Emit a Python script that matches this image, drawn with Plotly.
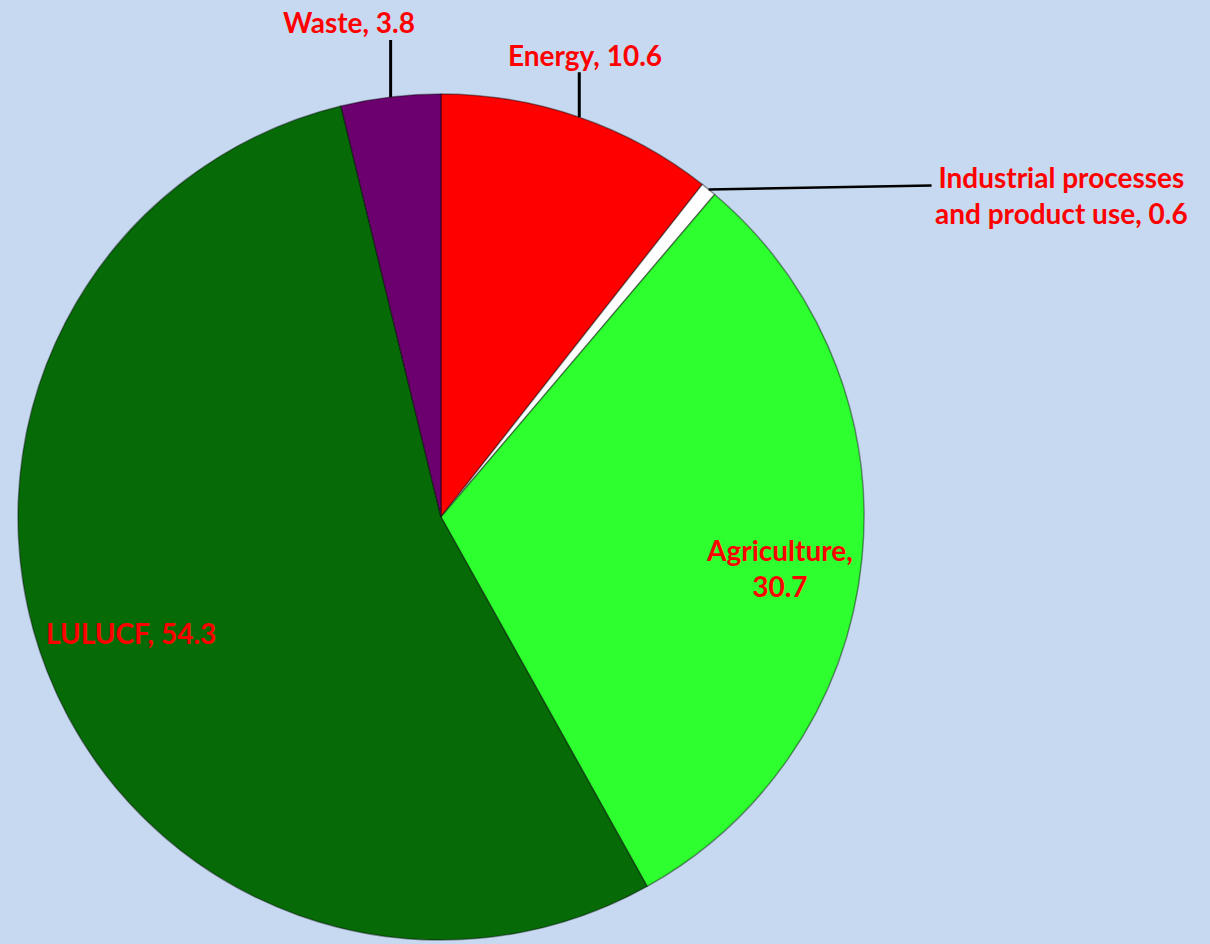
import math
import plotly.graph_objects as go

categories = ["Energy", "Industrial processes and product use", "Agriculture", "LULUCF", "Waste"]
values = [10.6, 0.6, 30.7, 54.3, 3.8]
label_texts = ["Energy, 10.6", "Industrial processes<br>and product use, 0.6",
               "Agriculture,<br>30.7", "LULUCF, 54.3", "Waste, 3.8"]
colors = ["#FF0000", "#FFFFFF", "#2EFF2E", "#066A06", "#6C006E"]

W, H = 1210, 944
CX, CY, R = 441, 517, 423
BG = "#C6D9F0"

fig = go.Figure()
fig.add_trace(go.Pie(
    labels=categories, values=values, sort=False, direction="clockwise",
    rotation=0, textinfo="none", hoverinfo="label+value",
    marker=dict(colors=colors, line=dict(color="rgba(0,0,0,0.4)", width=1.5)),
    domain=dict(x=[(CX - R) / W, (CX + R) / W], y=[(H - CY - R) / H, (H - CY + R) / H]),
    showlegend=False,
))

total = sum(values)

def px2paper(x, y):
    return x / W, 1 - y / H

def point(angle_deg, r):
    a = math.radians(angle_deg)
    return CX + r * math.sin(a), CY - r * math.cos(a)

mids = []
cum = 0
for v in values:
    mids.append((cum + v / 2) / total * 360)
    cum += v

font = dict(family="Lato, 'Open Sans', sans-serif", size=28, color="#FF0000")

shapes = []
annotations = []
style = {
    "Energy": ("vert", 45, 6, -17),
    "Waste": ("vert", 57, -42, -18),
    "Industrial processes and product use": ("horiz", 223, 0, 0),
    "Agriculture": ("inside", 0.80, 2, 18),
    "LULUCF": ("inside", 0.75, -15, 0),
}
for cat, txt, m in zip(categories, label_texts, mids):
    kind, p, dx, dy = style[cat]
    if kind == "vert":
        x0, y0 = point(m, R)
        x1, y1 = x0, y0 - p
        shapes.append(dict(type="line", xref="paper", yref="paper",
                           x0=px2paper(x0, y0)[0], y0=px2paper(x0, y0)[1],
                           x1=px2paper(x1, y1)[0], y1=px2paper(x1, y1)[1],
                           line=dict(color="black", width=3)))
        tx, ty = px2paper(x1 + dx, y1 + dy)
        annotations.append(dict(text="<b>%s</b>" % txt, x=tx, y=ty, xref="paper", yref="paper",
                                showarrow=False, font=font, xanchor="center", yanchor="middle"))
    elif kind == "horiz":
        x0, y0 = point(m, R)
        x1, y1 = x0 + p, y0 - 4
        shapes.append(dict(type="line", xref="paper", yref="paper",
                           x0=px2paper(x0, y0)[0], y0=px2paper(x0, y0)[1],
                           x1=px2paper(x1, y1)[0], y1=px2paper(x1, y1)[1],
                           line=dict(color="black", width=2.5)))
        tx, ty = px2paper(x1 + 1, y1 + 10)
        annotations.append(dict(text="<b>%s</b>" % txt, x=tx, y=ty, xref="paper", yref="paper",
                                showarrow=False, font=font, xanchor="left", yanchor="middle",
                                align="center"))
    else:
        x0, y0 = point(m, R * p)
        tx, ty = px2paper(x0 + dx, y0 + dy)
        annotations.append(dict(text="<b>%s</b>" % txt, x=tx, y=ty, xref="paper", yref="paper",
                                showarrow=False, font=font, xanchor="center", yanchor="middle",
                                align="center"))

fig.update_layout(
    width=W, height=H, margin=dict(l=0, r=0, t=0, b=0),
    paper_bgcolor=BG, plot_bgcolor=BG,
    shapes=shapes, annotations=annotations,
)
fig.write_html("out.html")
